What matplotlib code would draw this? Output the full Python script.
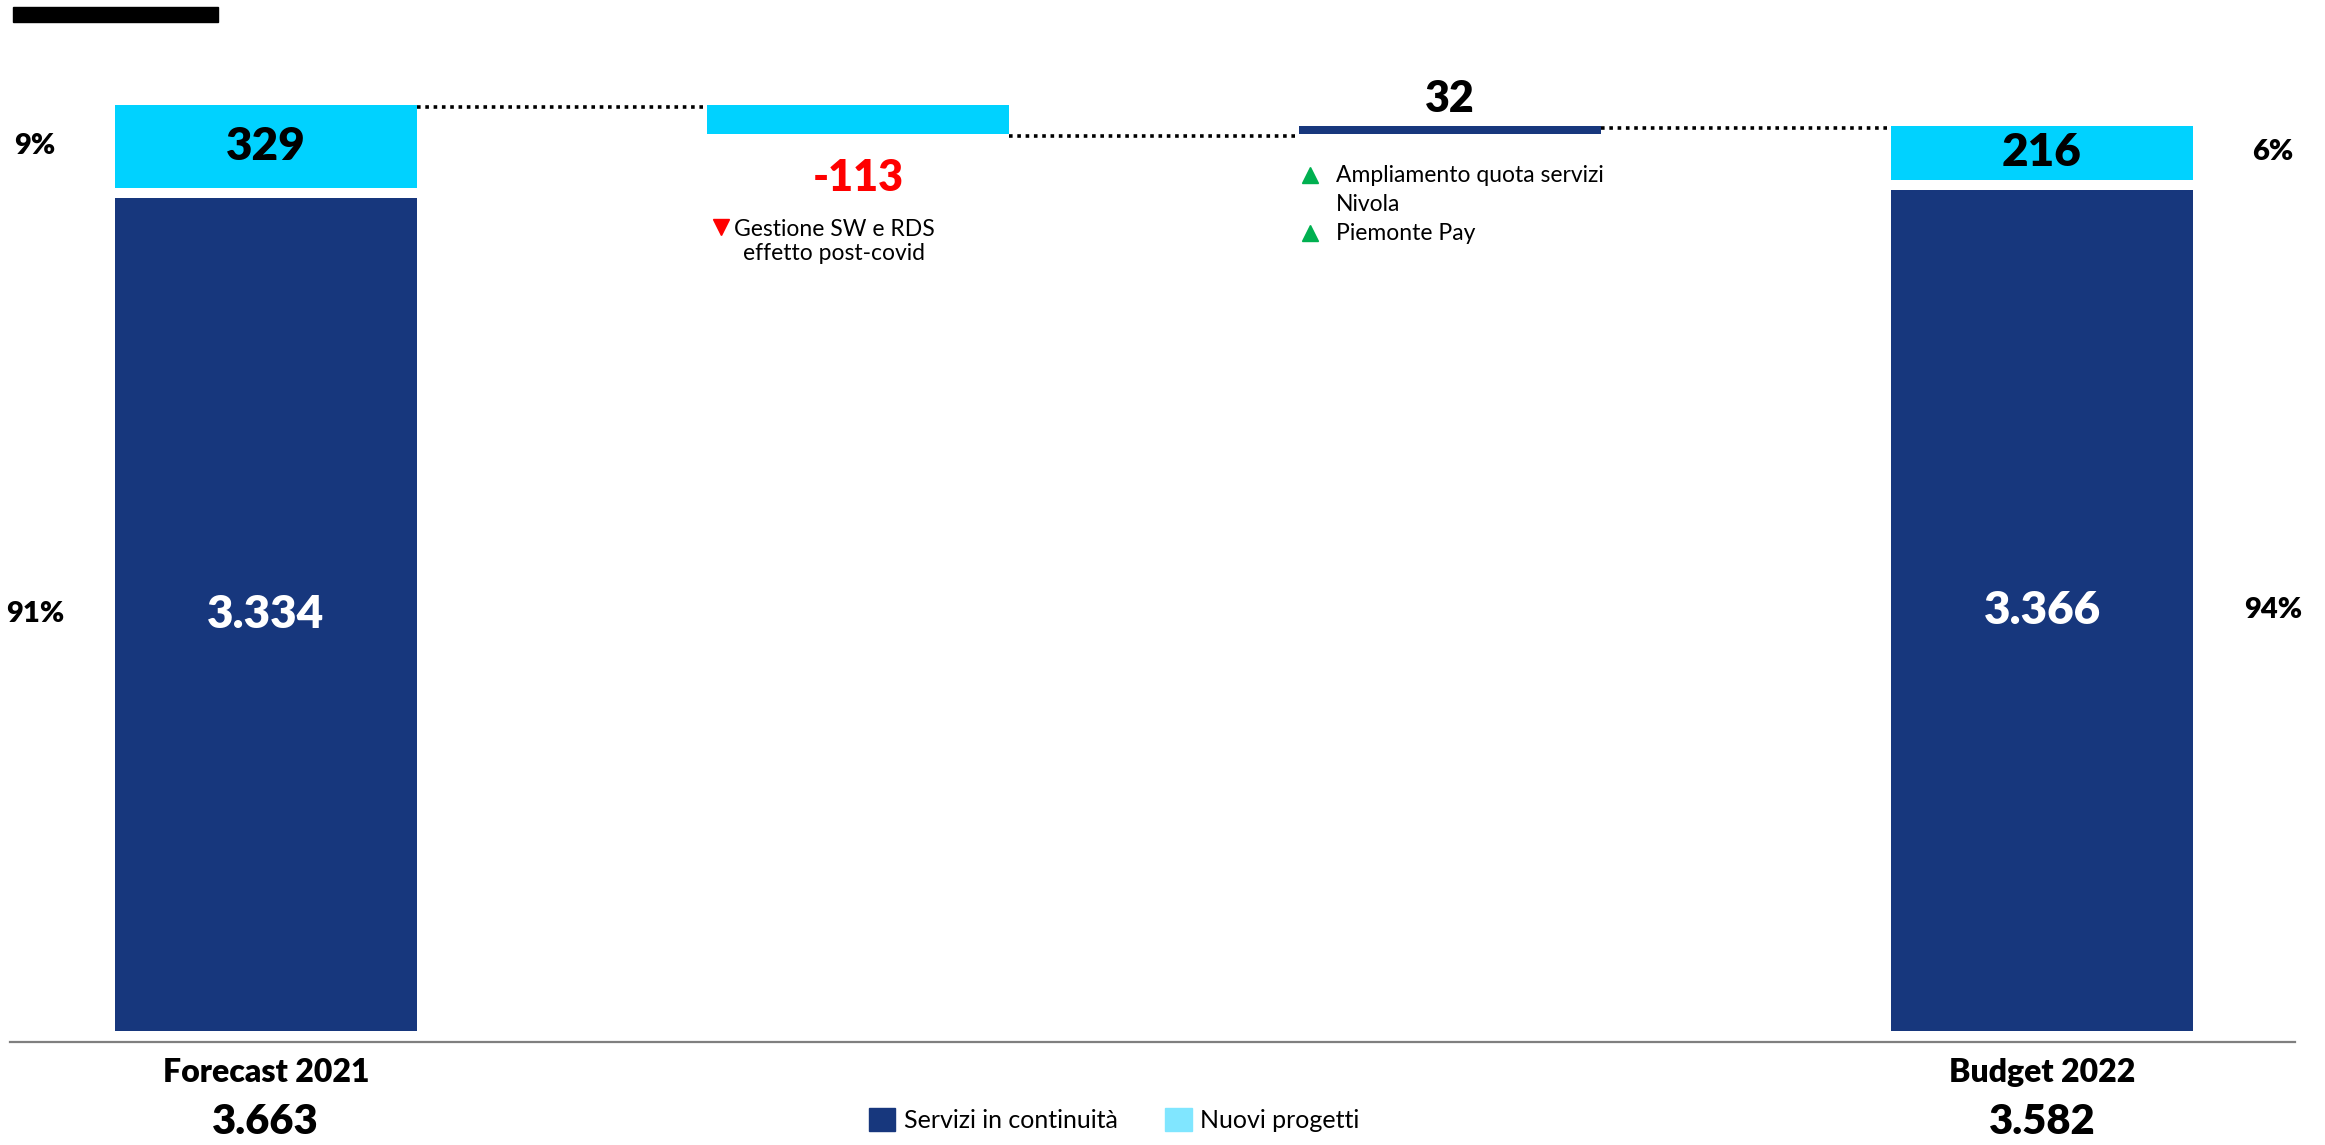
import matplotlib
matplotlib.use('Agg')
import matplotlib.pyplot as plt
from matplotlib.patches import Rectangle, Patch

plt.rcParams['font.family'] = ['Lato', 'DejaVu Sans']

# data
totals_labels = ['Forecast 2021', 'Budget 2022']
totals_text = ['3.663', '3.582']
servizi = [3334, 3366]
nuovi = [329, 216]
servizi_text = ['3.334', '3.366']
nuovi_text = ['329', '216']
pct_servizi = ['91%', '94%']
pct_nuovi = ['9%', '6%']
deltas = [-113, 32]
delta_text = ['-113', '32']
delta_series = ['nuovi', 'servizi']
start_total = 3663

dark = '#17377D'
cyan = '#00D2FF'
legend_cyan = '#80E6FF'
bold = 'heavy'

gap = 40      # white gap between the two stacked parts
w = 0.51
x_tot = [0, 3]
x_delta = [1, 2]

fig = plt.figure(figsize=(23.25, 11.45), dpi=100)
ax = fig.add_axes([0, 0, 1, 1])
ax.set_xlim(-0.449, 3.478)
ax.set_ylim(-456, 4124)
ax.axis('off')

# total bars
ax.bar(x_tot, servizi, width=w, color=dark)
ax.bar(x_tot, nuovi, width=w, bottom=[s + gap for s in servizi], color=cyan)

for i, x in enumerate(x_tot):
    ax.text(x, servizi[i] / 2, servizi_text[i], ha='center', va='center',
            color='white', fontsize=33, fontweight=bold)
    ax.text(x, servizi[i] + gap + nuovi[i] / 2, nuovi_text[i], ha='center', va='center',
            color='black', fontsize=33, fontweight=bold)
    side = -0.39 if i == 0 else 0.39
    ax.text(x + side, servizi[i] / 2, pct_servizi[i], ha='center', va='center',
            fontsize=21, fontweight=bold)
    ax.text(x + side, servizi[i] + gap + nuovi[i] / 2, pct_nuovi[i], ha='center', va='center',
            fontsize=21, fontweight=bold)
    ax.text(x, -165, totals_labels[i], ha='center', va='center',
            fontsize=23, fontweight=bold)
    ax.text(x, -365, totals_text[i], ha='center', va='center',
            fontsize=30, fontweight=bold)

# floating bars
level = start_total
levels = [start_total]
for i, d in enumerate(deltas):
    col = cyan if delta_series[i] == 'nuovi' else dark
    ax.bar(x_delta[i], abs(d), width=w, bottom=min(level, level + d) + gap, color=col)
    level += d
    levels.append(level)

# connectors
xs = [x_tot[0]] + x_delta + [x_tot[1]]
for i in range(len(xs) - 1):
    ax.plot([xs[i] + w / 2, xs[i + 1] - w / 2], [levels[i] + gap - 8] * 2,
            color='black', lw=2.6, ls=(0, (1, 1.3)))

# delta labels
ax.text(x_delta[0], levels[1] + gap - 178, delta_text[0], ha='center', va='center',
        color='#FF0000', fontsize=31, fontweight=bold)
ax.text(x_delta[1], levels[2] + gap + 106, delta_text[1], ha='center', va='center',
        color='black', fontsize=31, fontweight=bold)

# notes
ax.plot(x_delta[0] - 0.231, 3216, marker='v', color='#FF0000', ms=12, ls='none')
ax.text(x_delta[0] - 0.040, 3158, 'Gestione SW e RDS\neffetto post-covid', ha='center',
        va='center', fontsize=16.5, linespacing=1.15)

ax.plot([x_delta[1] - 0.236] * 2, [3424, 3192], marker='^', color='#00B050', ms=12, ls='none')
ax.text(x_delta[1] - 0.193, 3424, 'Ampliamento quota servizi', ha='left', va='center', fontsize=16.5)
ax.text(x_delta[1] - 0.193, 3306, 'Nivola', ha='left', va='center', fontsize=16.5)
ax.text(x_delta[1] - 0.193, 3192, 'Piemonte Pay', ha='left', va='center', fontsize=16.5)

# base line
ax.axhline(-44, xmin=10 / 2325, xmax=2295 / 2325, color='#7F7F7F', lw=1.6)

# redacted title block
fig.add_artist(Rectangle((13 / 2325, 1 - 22 / 1145), 205 / 2325, 15 / 1145,
                         transform=fig.transFigure, color='black'))

handles = [Patch(color=dark, label='Servizi in continuità'),
           Patch(color=legend_cyan, label='Nuovi progetti')]
fig.legend(handles=handles, loc='center left', bbox_to_anchor=(869 / 2325, 1 - 1120 / 1145),
           ncol=2, frameon=False, fontsize=18, handlelength=1.05, handleheight=1.05,
           handletextpad=0.35, columnspacing=1.9, borderpad=0, borderaxespad=0)

fig.savefig('out.png', dpi=100)
